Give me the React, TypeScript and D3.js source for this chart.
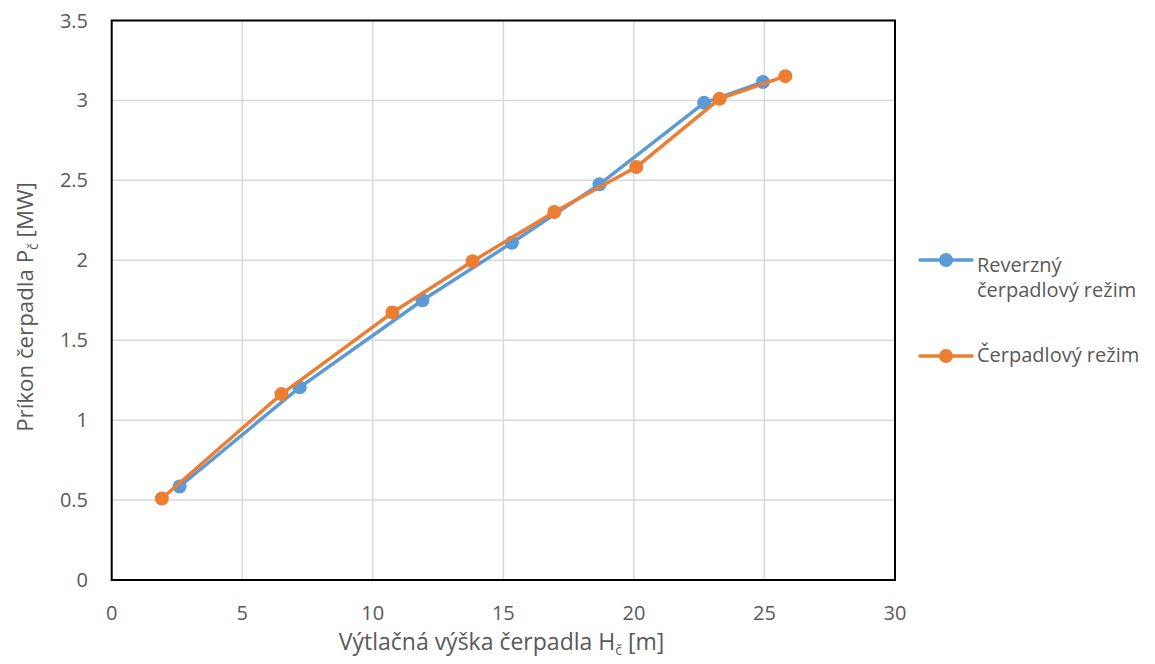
import React, { useEffect, useRef } from "react";
import * as d3 from "d3";

const reverseX = [2.6, 7.2, 11.9, 15.33, 18.68, 22.69, 24.94];
const reverseY = [0.585, 1.205, 1.75, 2.11, 2.475, 2.985, 3.115];
const pumpX = [1.92, 6.5, 10.75, 13.82, 16.95, 20.09, 23.28, 25.8];
const pumpY = [0.51, 1.163, 1.673, 1.994, 2.302, 2.583, 3.01, 3.152];
const xTicks = [0, 5, 10, 15, 20, 25, 30];
const yTicks = [0, 0.5, 1, 1.5, 2, 2.5, 3, 3.5];
const seriesNames = ["Reverzný|čerpadlový režim", "Čerpadlový režim"];
const colors = ["#5B9BD5", "#ED7D31"];

const W = 1155, H = 664;
const L = 111.7, T = 20.5, R = 895, B = 580;
const FONT = "'Open Sans', 'Noto Sans', sans-serif";
const TXT = "#595959";

export default function App() {
  const ref = useRef<SVGSVGElement>(null);
  useEffect(() => {
    const svg = d3.select(ref.current);
    svg.selectAll("*").remove();
    const x = d3.scaleLinear().domain([0, 30]).range([L, R]);
    const y = d3.scaleLinear().domain([0, 3.5]).range([B, T]);

    svg.append("rect").attr("width", W).attr("height", H).attr("fill", "#fff");

    const grid = svg.append("g");
    xTicks.forEach(t => {
      grid.append("line").attr("x1", x(t)).attr("x2", x(t)).attr("y1", T).attr("y2", B)
        .attr("stroke", "#D9D9D9").attr("stroke-width", 1.5);
    });
    yTicks.forEach(t => {
      grid.append("line").attr("x1", L).attr("x2", R).attr("y1", y(t)).attr("y2", y(t))
        .attr("stroke", "#D9D9D9").attr("stroke-width", 1.5);
    });

    svg.append("rect").attr("x", L).attr("y", T).attr("width", R - L).attr("height", B - T)
      .attr("fill", "none").attr("stroke", "#000").attr("stroke-width", 2);

    const tl = svg.append("g").attr("font-family", FONT).attr("font-size", 20).attr("fill", TXT);
    xTicks.forEach(t => {
      tl.append("text").attr("x", x(t)).attr("y", B + 40).attr("text-anchor", "middle").text(String(t));
    });
    yTicks.forEach(t => {
      tl.append("text").attr("x", 88).attr("y", y(t) + 7).attr("text-anchor", "end").text(String(t));
    });

    const xs = [reverseX, pumpX];
    const ys = [reverseY, pumpY];
    const line = d3.line<[number, number]>().x(d => x(d[0])).y(d => y(d[1]));
    [0, 1].forEach(i => {
      const pts: [number, number][] = xs[i].map((v, j) => [v, ys[i][j]]);
      svg.append("path").attr("d", line(pts)).attr("fill", "none")
        .attr("stroke", colors[i]).attr("stroke-width", 3.5).attr("stroke-linejoin", "round");
      svg.append("g").selectAll("circle").data(pts).enter().append("circle")
        .attr("cx", d => x(d[0])).attr("cy", d => y(d[1])).attr("r", 7).attr("fill", colors[i]);
    });

    // axis titles
    const xt = svg.append("text").attr("x", 501.5).attr("y", 650)
      .attr("text-anchor", "middle").attr("font-family", FONT).attr("font-size", 23).attr("fill", TXT);
    xt.append("tspan").text("Výtlačná výška čerpadla H");
    xt.append("tspan").attr("font-size", 14).attr("dy", 5).text("č");
    xt.append("tspan").attr("dy", -5).text(" [m]");

    const yt = svg.append("text").attr("transform", `translate(33,307) rotate(-90)`)
      .attr("text-anchor", "middle").attr("font-family", FONT).attr("font-size", 22.3).attr("fill", TXT);
    yt.append("tspan").text("Príkon čerpadla P");
    yt.append("tspan").attr("font-size", 14).attr("dy", 5).text("č");
    yt.append("tspan").attr("dy", -5).text(" [MW]");

    // legend
    const legY = [260, 356];
    const legText = [271.7, 361.7];
    [0, 1].forEach(i => {
      const g = svg.append("g");
      g.append("line").attr("x1", 920).attr("x2", 972).attr("y1", legY[i]).attr("y2", legY[i])
        .attr("stroke", colors[i]).attr("stroke-width", 3.5).attr("stroke-linecap", "round");
      g.append("circle").attr("cx", 946).attr("cy", legY[i]).attr("r", 7).attr("fill", colors[i]);
      const lines = seriesNames[i].split("|");
      lines.forEach((s, k) => {
        g.append("text").attr("x", 977).attr("y", legText[i] + k * 25)
          .attr("font-family", FONT).attr("font-size", 20).attr("fill", TXT).text(s);
      });
    });
  }, []);
  return (
    <div style={{ position: "fixed", left: 0, top: 0 }}>
      <svg ref={ref} width={W} height={H} style={{ display: "block" }} />
    </div>
  );
}
